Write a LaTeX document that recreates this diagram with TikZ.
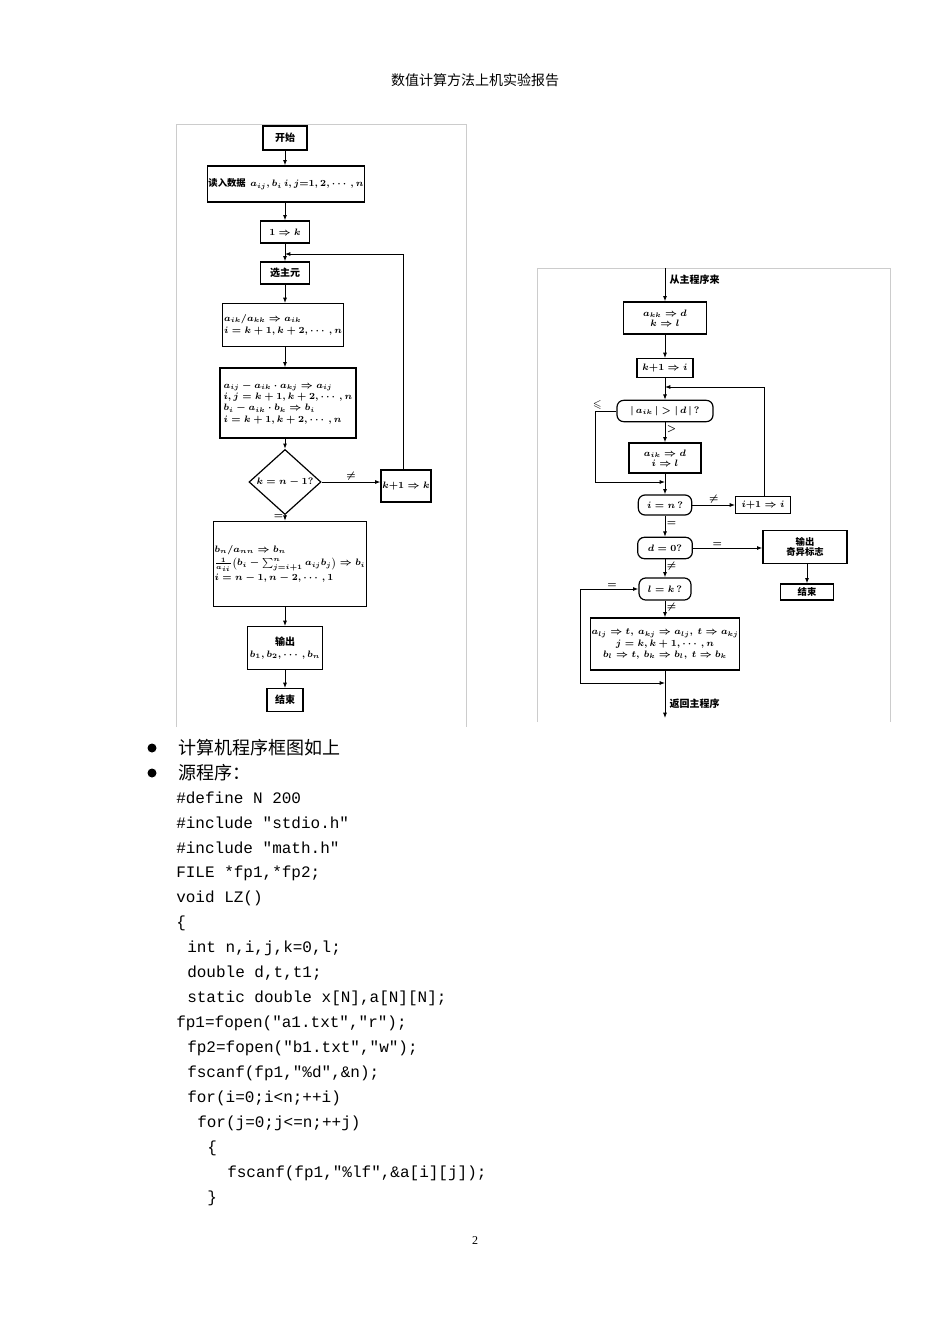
\documentclass[tikz,border=0pt]{standalone}
\usepackage{amsmath,amssymb}
\usepackage{fontspec}
\setmainfont{Liberation Serif}
\setmonofont{Liberation Mono}
\newfontfamily\cjk{Noto Sans CJK SC}
\usetikzlibrary{shapes.geometric,arrows.meta}
\begin{document}
\begin{tikzpicture}[x=0.75pt,y=-0.75pt,
  box/.style={draw,line width=0.9pt,inner sep=1pt,font=\fontsize{7.5}{9}\selectfont\boldmath,align=center},
  rbox/.style={box,rounded corners=5pt},
  arr/.style={-{Latex[length=4pt,width=3pt]},line width=0.7pt},
  ln/.style={line width=0.7pt},
  lab/.style={font=\fontsize{7.5}{8}\selectfont\boldmath,inner sep=1pt},
  frame/.style={draw=black!20,line width=0.6pt},
  code/.style={anchor=west,inner sep=0pt,font=\ttfamily\fontsize{12}{14}\selectfont},
  txt/.style={anchor=west,inner sep=0pt,font=\cjk\fontsize{13.5}{15}\selectfont}]
\useasboundingbox (0,0) rectangle (950,1344);
\fill[white] (0,0) rectangle (950,1344);
\node[font=\cjk\fontsize{10.5}{12}\selectfont] (hdr) at (475,80) {数值计算方法上机实验报告};
% frames
\draw[frame] (176,727) -- (176,124) -- (466,124) -- (466,727);
\draw[frame] (537,722) -- (537,268) -- (890,268) -- (890,722);
% left chart
\node[box,minimum width=33pt,minimum height=18pt,font=\cjk\bfseries\fontsize{7.5}{8}\selectfont] (st) at (285,138) {开始};
\node[box,minimum width=101pt,minimum height=27pt,font=\fontsize{7}{8}\selectfont\boldmath] (rd) at (286,184) {{\cjk\bfseries 读入数据}\ \ $a_{ij},b_i\,i,j{=}1,2,\cdots,n$};
\node[box,minimum width=37pt,minimum height=16.5pt] (one) at (285,232) {$1\Rightarrow k$};
\coordinate (j1) at (285,254);
\node[box,minimum width=37pt,minimum height=16.5pt,font=\cjk\bfseries\fontsize{7.5}{8}\selectfont] (xz) at (285,273) {选主元};
\node[box,minimum width=83pt,minimum height=32pt,align=left] (b1) at (283,325) {$a_{ik}/a_{kk}\Rightarrow a_{ik}$\\ $i=k+1,k+2,\cdots,n$};
\node[box,minimum width=102pt,minimum height=52.5pt,align=left,font=\fontsize{7.5}{8.5}\selectfont\boldmath] (b2) at (288,403) {$a_{ij}-a_{ik}\cdot a_{kj}\Rightarrow a_{ij}$\\ $i,j=k+1,k+2,\cdots,n$\\ $b_i-a_{ik}\cdot b_k\Rightarrow b_i$\\ $i=k+1,k+2,\cdots,n$};
\node[diamond,draw,line width=0.9pt,minimum width=54pt,minimum height=30pt,inner sep=0pt,font=\fontsize{7.5}{8}\selectfont\boldmath] (dk) at (285,482) {$k=n-1?$};
\node[box,minimum width=36pt,minimum height=24pt] (kb) at (406,486) {$k{+}1\Rightarrow k$};
\node[box,minimum width=86pt,minimum height=64pt,align=left] (b3) at (290,564) {$b_n/a_{nn}\Rightarrow b_n$\\[1pt] $\frac{1}{a_{ii}}\bigl(b_i-\sum_{j=i+1}^{n}a_{ij}b_j\bigr)\Rightarrow b_i$\\[2pt] $i=n-1,n-2,\cdots,1$};
\node[box,minimum width=56pt,minimum height=32pt] (out) at (285,648) {{\cjk\bfseries 输出}\\ $b_1,b_2,\cdots,b_n$};
\node[box,minimum width=27pt,minimum height=17pt,font=\cjk\bfseries\fontsize{7.5}{8}\selectfont] (en) at (285,700) {结束};
\draw[arr] (st) -- (rd.north -| st);
\draw[arr] (rd.south -| st) -- (one);
\draw[arr] (one) -- (xz);
\draw[arr] (xz) -- (b1.north -| 285,0);
\draw[arr] (b1.south -| 285,0) -- (b2.north -| 285,0);
\draw[arr] (b2.south -| 285,0) -- (dk);
\draw[arr] (dk.east) -- (kb.west |- dk.east) node[lab,midway,above] {$\neq$};
\draw[arr] (kb.north -| 403,0) |- (j1);
\draw[arr] (dk.south) -- (b3.north -| 285,0) node[lab,pos=0.3,left] {$=$};
\draw[arr] (b3.south -| 285,0) -- (out);
\draw[arr] (out) -- (en);
% right chart
\coordinate (in) at (665,268);
\node[anchor=west,font=\cjk\bfseries\fontsize{7.5}{8}\selectfont,inner sep=1pt] (inl) at (668,280) {从主程序来};
\node[box,minimum width=62pt,minimum height=24pt,align=center,font=\fontsize{7.5}{7.5}\selectfont\boldmath] (ra) at (665,318) {$a_{kk}\Rightarrow d$\\ $k\Rightarrow l$};
\node[box,minimum width=42pt,minimum height=14pt] (rk) at (665,368) {$k{+}1\Rightarrow i$};
\coordinate (j2) at (665,387);
\node[rbox,minimum width=72pt,minimum height=16pt] (r1) at (665,411) {$|\,a_{ik}\,|>|\,d\,|\,?$};
\node[box,minimum width=54pt,minimum height=22.5pt,font=\fontsize{7.5}{7.5}\selectfont\boldmath] (rb) at (665,458) {$a_{ik}\Rightarrow d$\\ $i\Rightarrow l$};
\coordinate (j3) at (665,482);
\coordinate (lc) at (595,411);
\node[rbox,minimum width=40pt,minimum height=15pt] (rn) at (665,505) {$i=n\,?$};
\node[box,minimum width=41pt,minimum height=13pt] (ri) at (763,505) {$i{+}1\Rightarrow i$};
\node[rbox,minimum width=41pt,minimum height=16pt] (rd0) at (665,548) {$d=0?$};
\node[box,minimum width=63pt,minimum height=25pt,font=\cjk\bfseries\fontsize{7}{8}\selectfont] (ro) at (805,547) {输出\\奇异标志};
\node[box,minimum width=40pt,minimum height=12pt,font=\cjk\bfseries\fontsize{7}{7.5}\selectfont] (re) at (807,592) {结束};
\node[rbox,minimum width=39pt,minimum height=16.5pt] (rl) at (665,589) {$l=k\,?$};
\coordinate (lc2) at (580,589);
\node[box,minimum width=106pt,minimum height=39pt,font=\fontsize{7}{8.5}\selectfont\boldmath] (rs) at (665,644) {$a_{lj}\Rightarrow t,\ a_{kj}\Rightarrow a_{lj},\ t\Rightarrow a_{kj}$\\ $j=k,k+1,\cdots,n$\\ $b_l\Rightarrow t,\ b_k\Rightarrow b_l,\ t\Rightarrow b_k$};
\coordinate (j4) at (665,683);
\coordinate (ex) at (665,718);
\node[anchor=west,font=\cjk\bfseries\fontsize{7.5}{8}\selectfont,inner sep=1pt] (exl) at (668,704) {返回主程序};
\draw[arr] (in) -- (ra);
\draw[arr] (ra) -- (rk);
\draw[arr] (rk) -- (r1);
\draw[arr] (r1) -- (rb) node[lab,pos=0.35,right] {$>$};
\draw[ln] (r1.west) -- (lc) node[lab,above left,pos=0.6] {$\leqslant$};
\draw[arr] (lc) |- (j3);
\draw[arr] (rb) -- (rn);
\draw[arr] (rn) -- (ri) node[lab,midway,above] {$\neq$};
\draw[arr] (ri.north -| 764,0) |- (j2);
\draw[arr] (rn) -- (rd0) node[lab,pos=0.4,right] {$=$};
\draw[arr] (rd0) -- (ro.west |- rd0) node[lab,pos=0.35,above] {$=$};
\draw[arr] (ro.south -| 807,0) -- (re);
\draw[arr] (rd0) -- (rl) node[lab,pos=0.4,right] {$\neq$};
\draw[arr] (lc2) -- (rl) node[lab,pos=0.55,above] {$=$};
\draw[arr] (lc2) |- (j4);
\draw[arr] (rl) -- (rs) node[lab,pos=0.4,right] {$\neq$};
\draw[arr] (rs) -- (ex);
% text
\fill (152,748) circle (4.5);
\fill (152,773) circle (4.5);
\node[txt] (t1) at (178,748) {计算机程序框图如上};
\node[txt] (t2) at (178,773) {源程序：};
\node[code] (c1) at (176,798) {\#define N 200};
\node[code] (c2) at (176,823) {\#include "stdio.h"};
\node[code] (c3) at (176,848) {\#include "math.h"};
\node[code] (c4) at (176,873) {FILE *fp1,*fp2;};
\node[code] (c5) at (176,898) {void LZ()};
\node[code] (c6) at (176,923) {\{};
\node[code] (c7) at (187,948) {int n,i,j,k=0,l;};
\node[code] (c8) at (187,973) {double d,t,t1;};
\node[code] (c9) at (187,998) {static double x[N],a[N][N];};
\node[code] (c10) at (176,1023) {fp1=fopen("a1.txt","r");};
\node[code] (c11) at (187,1048) {fp2=fopen("b1.txt","w");};
\node[code] (c12) at (187,1073) {fscanf(fp1,"\%d",\&n);};
\node[code] (c13) at (187,1098) {for(i=0;i<n;++i)};
\node[code] (c14) at (197,1123) {for(j=0;j<=n;++j)};
\node[code] (c15) at (207,1148) {\{};
\node[code] (c16) at (227,1173) {fscanf(fp1,"\%lf",\&a[i][j]);};
\node[code] (c17) at (207,1198) {\}};
\node[font=\fontsize{9}{10}\selectfont] (pg) at (475,1241) {2};
\end{tikzpicture}
\end{document}
